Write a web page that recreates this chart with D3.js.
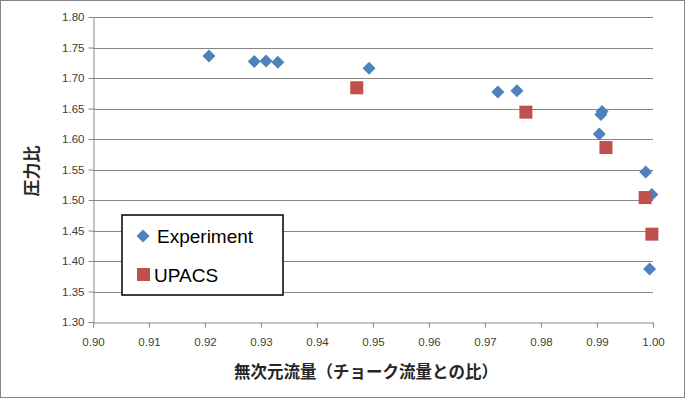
<!DOCTYPE html>
<html>
<head>
<meta charset="utf-8">
<script src="https://cdn.jsdelivr.net/npm/d3@7"></script>
<style>
body { margin: 0; background: #fff; }
svg text { font-family: "Liberation Sans", "Noto Sans", sans-serif; }
</style>
</head>
<body>
<div id="vis"></div>
<script>
var width = 685;
var height = 398;

// Experiment (diamonds)
var expFlow = [0.9207, 0.9288, 0.9309, 0.9330, 0.9493, 0.9723, 0.9757, 0.9909, 0.9907, 0.9904, 0.9987, 0.9998, 0.9994];
var expRatio = [1.736, 1.727, 1.728, 1.726, 1.716, 1.677, 1.679, 1.645, 1.640, 1.608, 1.546, 1.509, 1.387];

// UPACS (squares)
var upFlow = [0.9471, 0.9773, 0.9916, 0.9986, 0.9998];
var upRatio = [1.684, 1.644, 1.586, 1.504, 1.444];

var xTicks = [0.90, 0.91, 0.92, 0.93, 0.94, 0.95, 0.96, 0.97, 0.98, 0.99, 1.00];
var yTicks = [1.30, 1.35, 1.40, 1.45, 1.50, 1.55, 1.60, 1.65, 1.70, 1.75, 1.80];

var margin = { top: 17, bottom: 76, left: 93, right: 32 };

var svg = d3.select('#vis')
    .append('svg')
    .attr('width', width)
    .attr('height', height);

// outer frame
svg.append('rect')
    .attr('x', 0.5).attr('y', 0.5)
    .attr('width', width - 1).attr('height', height - 1)
    .attr('fill', '#fff')
    .attr('stroke', '#868686');

var g = svg.append('g')
    .attr('transform', 'translate(' + margin.left + ',' + margin.top + ')');

var w = width - margin.left - margin.right;
var h = height - margin.top - margin.bottom;

var x_scale = d3.scaleLinear().domain([0.90, 1.00]).range([0, w]);
var y_scale = d3.scaleLinear().domain([1.30, 1.80]).range([h, 0]);

// gridlines
g.selectAll('.grid')
    .data(yTicks.slice(1))
    .enter()
    .append('line')
    .attr('class', 'grid')
    .attr('x1', 0).attr('x2', w)
    .attr('y1', function(d) { return Math.round(y_scale(d)) + 0.5; })
    .attr('y2', function(d) { return Math.round(y_scale(d)) + 0.5; })
    .attr('stroke', '#868686')
    .attr('stroke-width', 1);

var x_axis = d3.axisBottom(x_scale)
    .tickValues(xTicks)
    .tickFormat(d3.format('.2f'))
    .tickSize(5)
    .tickSizeOuter(0);

var y_axis = d3.axisLeft(y_scale)
    .tickValues(yTicks)
    .tickFormat(d3.format('.2f'))
    .tickSize(5)
    .tickSizeOuter(0);

var gx = g.append('g')
    .attr('transform', 'translate(0,' + (Math.round(h) + 0.5) + ')')
    .call(x_axis);

var gy = g.append('g')
    .attr('transform', 'translate(0.5,0)')
    .call(y_axis);

[gx, gy].forEach(function(a) {
    a.selectAll('path, line').attr('stroke', '#868686');
    a.selectAll('text')
        .attr('fill', '#404040')
        .style('font-size', '11.5px');
});
gx.selectAll('text').attr('dy', '1.35em');
gy.selectAll('text').attr('x', -9);

// axis titles
svg.append('text')
    .attr('text-anchor', 'middle')
    .attr('x', 366)
    .attr('y', 378)
    .style('font-family', '"Noto Sans CJK JP", sans-serif')
    .style('font-weight', 'bold')
    .style('font-size', '16.5px')
    .attr('fill', '#262626')
    .text('無次元流量（チョーク流量との比）');

svg.append('text')
    .attr('text-anchor', 'middle')
    .attr('transform', 'translate(38,171) rotate(-90)')
    .style('font-family', '"Noto Sans CJK JP", sans-serif')
    .style('font-weight', 'bold')
    .style('font-size', '17px')
    .attr('fill', '#262626')
    .text('圧力比');

var expData = expFlow.map(function(d, i) { return [d, expRatio[i]]; });
var upData = upFlow.map(function(d, i) { return [d, upRatio[i]]; });

var diamond = 'M0,-6.5L6.5,0L0,6.5L-6.5,0Z';

g.selectAll('.exp')
    .data(expData)
    .enter()
    .append('path')
    .attr('class', 'exp')
    .attr('d', diamond)
    .attr('transform', function(d) {
        return 'translate(' + x_scale(d[0]) + ',' + y_scale(d[1]) + ')';
    })
    .attr('fill', '#4F81BD');

g.selectAll('.up')
    .data(upData)
    .enter()
    .append('rect')
    .attr('class', 'up')
    .attr('x', function(d) { return x_scale(d[0]) - 6.5; })
    .attr('y', function(d) { return y_scale(d[1]) - 6.5; })
    .attr('width', 13)
    .attr('height', 13)
    .attr('fill', '#C0504D');

// legend
var legend = svg.append('g');
legend.append('rect')
    .attr('x', 122).attr('y', 215)
    .attr('width', 161).attr('height', 80)
    .attr('fill', '#fff')
    .attr('stroke', '#000')
    .attr('stroke-width', 1.5);

legend.append('path')
    .attr('d', diamond)
    .attr('transform', 'translate(143,236)')
    .attr('fill', '#4F81BD');
legend.append('rect')
    .attr('x', 137).attr('y', 268)
    .attr('width', 13).attr('height', 13)
    .attr('fill', '#C0504D');

legend.append('text')
    .attr('x', 157).attr('y', 243)
    .style('font-size', '19px')
    .attr('fill', '#000')
    .text('Experiment');
legend.append('text')
    .attr('x', 154).attr('y', 282)
    .style('font-size', '19px')
    .attr('fill', '#000')
    .text('UPACS');
</script>
</body>
</html>
